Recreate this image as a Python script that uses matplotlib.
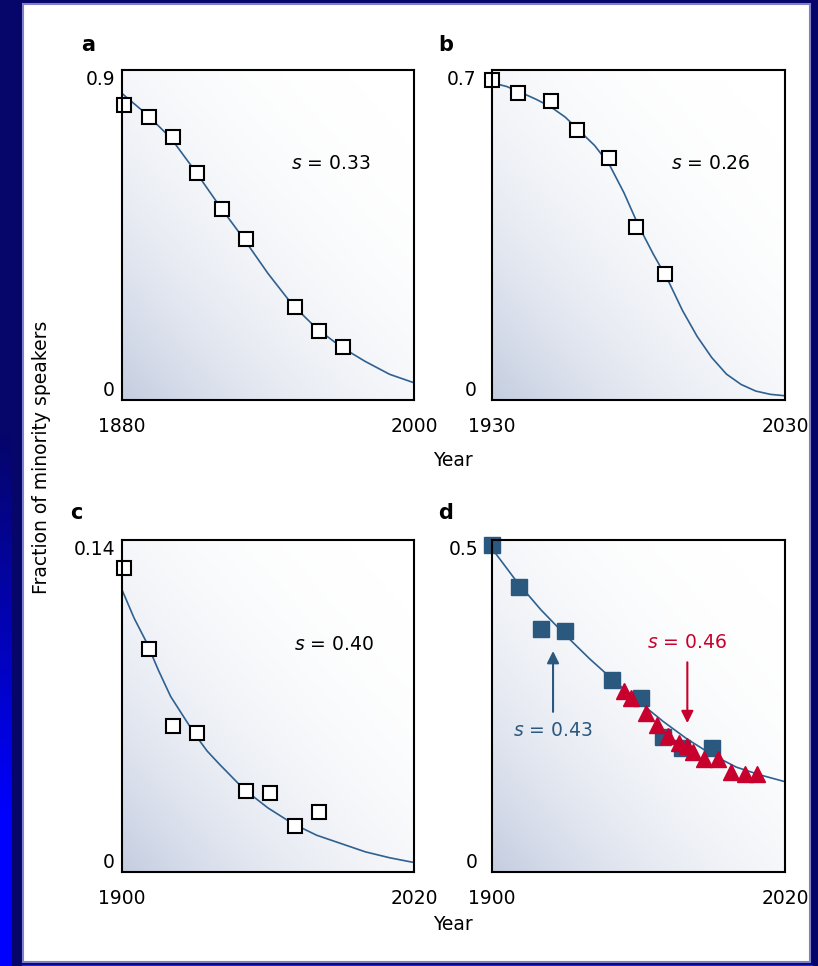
import numpy as np
import matplotlib
matplotlib.use("Agg")
import matplotlib.pyplot as plt
from matplotlib.patches import Rectangle
from matplotlib.colors import LinearSegmentedColormap

plt.rcParams['font.family'] = ['DejaVu Sans']
plt.rcParams['mathtext.fontset'] = 'dejavusans'

# panel a
a_years = [1881, 1891, 1901, 1911, 1921, 1931, 1951, 1961, 1971]
a_vals = [0.804, 0.771, 0.716, 0.618, 0.521, 0.439, 0.254, 0.188, 0.145]
a_fit_years = [1880, 1890, 1900, 1910, 1920, 1930, 1940, 1950, 1960, 1970, 1980, 1990, 2000]
a_fit_vals = [0.836, 0.78, 0.715, 0.625, 0.53, 0.44, 0.345, 0.26, 0.195, 0.145, 0.105, 0.07, 0.047]

# panel b
b_years = [1930, 1939, 1950, 1959, 1970, 1979, 1989]
b_vals = [0.679, 0.652, 0.634, 0.573, 0.513, 0.366, 0.267]
b_fit_years = [1930, 1935, 1940, 1945, 1950, 1955, 1960, 1965, 1970, 1975, 1980,
               1985, 1990, 1995, 2000, 2005, 2010, 2015, 2020, 2025, 2030]
b_fit_vals = [0.673, 0.665, 0.652, 0.638, 0.622, 0.60, 0.57, 0.54, 0.50, 0.44, 0.37,
              0.31, 0.255, 0.19, 0.135, 0.09, 0.055, 0.033, 0.019, 0.012, 0.009]

# panel c
c_years = [1901, 1911, 1921, 1931, 1951, 1961, 1971, 1981]
c_vals = [0.128, 0.0939, 0.0615, 0.0585, 0.034, 0.0335, 0.0195, 0.0255]
c_fit_years = [1900, 1905, 1910, 1915, 1920, 1925, 1930, 1935, 1940, 1950, 1960,
               1970, 1980, 1990, 2000, 2010, 2020]
c_fit_vals = [0.119, 0.107, 0.097, 0.085, 0.074, 0.066, 0.058, 0.051, 0.0455, 0.035,
              0.027, 0.0205, 0.0155, 0.012, 0.0085, 0.006, 0.004]

# panel d
d_sq_years = [1900, 1911, 1920, 1930, 1949, 1961, 1970, 1978, 1990]
d_sq_vals = [0.492, 0.429, 0.366, 0.363, 0.289, 0.262, 0.203, 0.186, 0.187]
d_tri_years = [1954, 1957, 1963, 1967.5, 1972, 1976.5, 1980, 1982.5, 1987, 1992.5,
               1998, 2003.5, 2008.5]
d_tri_vals = [0.272, 0.262, 0.240, 0.222, 0.205, 0.195, 0.190, 0.180, 0.170, 0.170,
              0.150, 0.147, 0.147]
d_fit_years = [1900, 1910, 1920, 1930, 1940, 1950, 1960, 1970, 1980, 1990, 2000, 2010, 2020]
d_fit_vals = [0.487, 0.438, 0.395, 0.357, 0.321, 0.288, 0.257, 0.227, 0.200, 0.177,
              0.158, 0.146, 0.136]

navy = '#05056a'
line_c = '#2e6090'
blue_c = '#2b587e'
red_c = '#c8002d'

W, H = 818, 966
fig = plt.figure(figsize=(W / 100, H / 100), dpi=100)
fig.patch.set_facecolor(navy)

# outer frame and white panel
bg = fig.add_axes([0, 0, 1, 1], zorder=-10)
bg.axis('off')
strip = np.linspace(0, 1, 200).reshape(-1, 1)
strip = np.clip((strip - 0.45) / 0.4, 0, 1)
strip_cmap = LinearSegmentedColormap.from_list('strip', [navy, '#0000ff'])
bg.imshow(strip, extent=[0, 12, H, 0], cmap=strip_cmap, aspect='auto', vmin=0, vmax=1)
bg.add_patch(Rectangle((23, 4), 787, 958, facecolor='white', edgecolor='#8080c8', lw=1.5))
bg.plot([22, 812], [964.5, 964.5], color='#2020ff', lw=1)
bg.set_xlim(0, W)
bg.set_ylim(H, 0)

# panel background shading, white top right to grey-blue bottom left
grad_cmap = LinearSegmentedColormap.from_list('g', ['#ffffff', '#c4cde0'])
gx, gy = np.meshgrid(np.linspace(0, 1, 200), np.linspace(0, 1, 200))
grad = ((1 - gx) + gy) / 2
grad = grad ** 2.6


def make_axes(rect, xr, yr, ypad):
    ax = fig.add_axes(rect)
    ax.imshow(grad, extent=[0, 1, 0, 1], transform=ax.transAxes, cmap=grad_cmap,
              aspect='auto', vmin=0, vmax=1, zorder=0)
    ax.set_xlim(*xr)
    ax.set_ylim(*yr)
    ax.set_xticks(list(xr))
    ax.set_yticks(list(yr))
    ax.set_yticklabels(['0', ('%g' % yr[1])])
    ax.tick_params(length=0, labelsize=13.5)
    ax.tick_params(axis='x', pad=12)
    ax.tick_params(axis='y', pad=ypad)
    labs = ax.get_yticklabels()
    labs[0].set_va('bottom')
    labs[1].set_va('top')
    for sp in ax.spines.values():
        sp.set_linewidth(1.5)
        sp.set_zorder(5)
    return ax


ax_a = make_axes([122 / W, 1 - 400 / H, 292 / W, 330 / H], (1880, 2000), (0, 0.9), 5)
ax_b = make_axes([492 / W, 1 - 400 / H, 293 / W, 330 / H], (1930, 2030), (0, 0.7), 11)
ax_c = make_axes([122 / W, 1 - 872 / H, 292 / W, 332 / H], (1900, 2020), (0, 0.14), 5)
ax_d = make_axes([492 / W, 1 - 872 / H, 293 / W, 332 / H], (1900, 2020), (0, 0.5), 10)

sq = dict(marker='s', ms=10, mfc='white', mec='black', mew=1.5, ls='none', clip_on=False, zorder=4)
ax_a.plot(a_fit_years, a_fit_vals, color=line_c, lw=1.2, zorder=3)
ax_a.plot(a_years, a_vals, **sq)
ax_a.text(1966, 0.645, '$s$ = 0.33', fontsize=13.5, ha='center', va='center')

ax_b.plot(b_fit_years, b_fit_vals, color=line_c, lw=1.2, zorder=3)
ax_b.plot(b_years, b_vals, **sq)
ax_b.text(2004.5, 0.502, '$s$ = 0.26', fontsize=13.5, ha='center', va='center')

ax_c.plot(c_fit_years, c_fit_vals, color=line_c, lw=1.2, zorder=3)
ax_c.plot(c_years, c_vals, **sq)
ax_c.text(1987, 0.096, '$s$ = 0.40', fontsize=13.5, ha='center', va='center')

ax_d.plot(d_fit_years, d_fit_vals, color=line_c, lw=1.2, zorder=3)
ax_d.plot(d_sq_years, d_sq_vals, marker='s', ms=11, color=blue_c, ls='none',
          clip_on=False, zorder=4)
ax_d.plot(d_tri_years, d_tri_vals, marker='^', ms=12, color=red_c, ls='none',
          clip_on=False, zorder=4)
ax_d.annotate('', xy=(1925, 0.337), xytext=(1925, 0.237),
              arrowprops=dict(arrowstyle='-|>', color=blue_c, lw=1.5, mutation_scale=18))
ax_d.text(1925, 0.213, '$s$ = 0.43', fontsize=13.5, color=blue_c, ha='center', va='center')
ax_d.annotate('', xy=(1980, 0.22), xytext=(1980, 0.32),
              arrowprops=dict(arrowstyle='-|>', color=red_c, lw=1.5, mutation_scale=18))
ax_d.text(1980, 0.345, '$s$ = 0.46', fontsize=13.5, color=red_c, ha='center', va='center')

# panel letters
for x, y, s in [(81, 45, 'a'), (438, 45, 'b'), (70, 513, 'c'), (438, 513, 'd')]:
    fig.text(x / W, 1 - y / H, s, fontsize=15, fontweight='bold', ha='left', va='center')

fig.text(453 / W, 1 - 460 / H, 'Year', fontsize=13.5, ha='center', va='center')
fig.text(453 / W, 1 - 925 / H, 'Year', fontsize=13.5, ha='center', va='center')
fig.text(42 / W, 1 - 457 / H, 'Fraction of minority speakers', fontsize=13.5,
         rotation=90, ha='center', va='center')

fig.savefig('out.png', dpi=100, facecolor=fig.get_facecolor())
